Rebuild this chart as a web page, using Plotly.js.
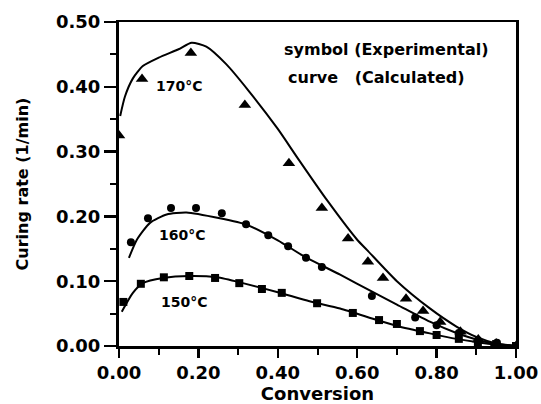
<!DOCTYPE html>
<html>
<head>
<meta charset="utf-8">
<script src="https://cdn.plot.ly/plotly-3.0.1.min.js"></script>
<style>html,body{margin:0;padding:0;background:#fff}#chart{width:541px;height:404px}</style>
</head>
<body>
<div id="chart"></div>
<script>
// Experimental points (symbols)
var exp170X = [0.0, 0.058, 0.181, 0.317, 0.428, 0.511, 0.577, 0.627, 0.665, 0.723, 0.766, 0.809, 0.860, 0.905, 0.950, 1.0];
var exp170Y = [0.325, 0.412, 0.452, 0.372, 0.282, 0.213, 0.166, 0.130, 0.105, 0.073, 0.054, 0.037, 0.022, 0.010, 0.004, 0.0];
var exp160X = [0.030, 0.073, 0.131, 0.194, 0.259, 0.320, 0.376, 0.426, 0.471, 0.511, 0.637, 0.746, 0.800, 0.856, 0.904, 0.952, 1.0];
var exp160Y = [0.160, 0.197, 0.213, 0.213, 0.205, 0.188, 0.171, 0.154, 0.136, 0.122, 0.077, 0.044, 0.032, 0.020, 0.009, 0.005, 0.0];
var exp150X = [0.011, 0.055, 0.113, 0.177, 0.242, 0.303, 0.360, 0.410, 0.499, 0.589, 0.655, 0.700, 0.758, 0.800, 0.856, 0.904, 0.950, 1.0];
var exp150Y = [0.068, 0.096, 0.106, 0.108, 0.105, 0.097, 0.088, 0.082, 0.066, 0.051, 0.040, 0.034, 0.023, 0.017, 0.011, 0.006, 0.003, 0.0];

// Calculated curves
var calc170X = [0.003, 0.015, 0.035, 0.06, 0.10, 0.15, 0.183, 0.22, 0.27, 0.325, 0.40, 0.45, 0.524, 0.60, 0.625, 0.70, 0.783, 0.85, 0.90, 0.95, 1.0];
var calc170Y = [0.355, 0.385, 0.413, 0.432, 0.445, 0.458, 0.468, 0.462, 0.435, 0.395, 0.335, 0.29, 0.225, 0.164, 0.148, 0.100, 0.058, 0.030, 0.014, 0.004, 0.0];
var calc160X = [0.025, 0.045, 0.078, 0.12, 0.17, 0.254, 0.322, 0.40, 0.47, 0.557, 0.64, 0.70, 0.783, 0.85, 0.90, 0.95, 1.0];
var calc160Y = [0.136, 0.164, 0.19, 0.203, 0.206, 0.197, 0.187, 0.163, 0.137, 0.110, 0.083, 0.064, 0.0375, 0.020, 0.010, 0.003, 0.0];
var calc150X = [0.007, 0.035, 0.06, 0.111, 0.179, 0.247, 0.312, 0.40, 0.48, 0.557, 0.65, 0.70, 0.783, 0.85, 0.90, 0.95, 1.0];
var calc150Y = [0.053, 0.082, 0.097, 0.105, 0.108, 0.106, 0.097, 0.083, 0.069, 0.058, 0.040, 0.031, 0.0195, 0.011, 0.006, 0.002, 0.0];

var xTickVals = [0, 0.2, 0.4, 0.6, 0.8, 1.0];
var xTickText = ["0.00", "0.20", "0.40", "0.60", "0.80", "1.00"];
var yTickVals = [0, 0.1, 0.2, 0.3, 0.4, 0.5];
var yTickText = ["0.00", "0.10", "0.20", "0.30", "0.40", "0.50"];

var tempLabels = ["170°C", "160°C", "150°C"];
var tempLabelX = [0.153, 0.159, 0.164];
var tempLabelY = [0.401, 0.171, 0.068];

var FONT = "DejaVu Sans, Arial, sans-serif";

function lineTrace(x, y) {
  return {x: x, y: y, mode: "lines", type: "scatter",
    line: {color: "#000", width: 2, shape: "spline", smoothing: 0.6},
    hoverinfo: "skip", showlegend: false};
}
function markTrace(x, y, sym, size) {
  return {x: x, y: y, mode: "markers", type: "scatter",
    marker: {color: "#000", symbol: sym, size: size, line: {width: 0}},
    showlegend: false};
}

var data = [
  lineTrace(calc170X, calc170Y),
  lineTrace(calc160X, calc160Y),
  lineTrace(calc150X, calc150Y),
  markTrace(exp170X, exp170Y, "triangle-up", 11),
  markTrace(exp160X, exp160Y, "circle", 8),
  markTrace(exp150X, exp150Y, "square", 8)
];

var annotations = tempLabels.map(function (t, i) {
  return {x: tempLabelX[i], y: tempLabelY[i], xref: "x", yref: "y", text: t,
    showarrow: false, font: {family: FONT, size: 14, color: "#000", weight: "bold"}};
});
annotations.push({x: 0.411, y: 0.458, xref: "x", yref: "y", xanchor: "left", text: "symbol (Experimental)",
  showarrow: false, font: {family: FONT, size: 16, color: "#000", weight: "bold"}});
annotations.push({x: 0.421, y: 0.414, xref: "x", yref: "y", xanchor: "left", text: "curve&nbsp;&nbsp;&nbsp;(Calculated)",
  showarrow: false, font: {family: FONT, size: 16, color: "#000", weight: "bold"}});

var layout = {
  width: 541, height: 404,
  margin: {l: 119, r: 25, t: 22, b: 58},
  paper_bgcolor: "#fff", plot_bgcolor: "#fff",
  showlegend: false,
  xaxis: {
    range: [0, 1], tickvals: xTickVals, ticktext: xTickText,
    showgrid: false, zeroline: false, showline: true, linewidth: 2.5, linecolor: "#000", mirror: true,
    ticks: "outside", ticklen: 9, tickwidth: 2.5, tickcolor: "#000",
    minor: {dtick: 0.1, ticks: "outside", ticklen: 6, tickwidth: 2, tickcolor: "#000", showgrid: false},
    tickfont: {family: FONT, size: 18, color: "#000", weight: "bold"},
    title: {text: "Conversion", standoff: 2, font: {family: FONT, size: 18, color: "#000", weight: "bold"}}
  },
  yaxis: {
    range: [0, 0.5], tickvals: yTickVals, ticktext: yTickText,
    showgrid: false, zeroline: false, showline: true, linewidth: 3, linecolor: "#000", mirror: true,
    ticks: "outside", ticklen: 12, tickwidth: 2.5, tickcolor: "#000",
    minor: {dtick: 0.05, ticks: "outside", ticklen: 6, tickwidth: 2, tickcolor: "#000", showgrid: false},
    tickfont: {family: FONT, size: 18, color: "#000", weight: "bold"},
    title: {text: "Curing rate (1/min)", standoff: 24, font: {family: FONT, size: 16, color: "#000", weight: "bold"}}
  },
  annotations: annotations
};

Plotly.newPlot("chart", data, layout, {displayModeBar: false, staticPlot: true});
</script>
</body>
</html>
